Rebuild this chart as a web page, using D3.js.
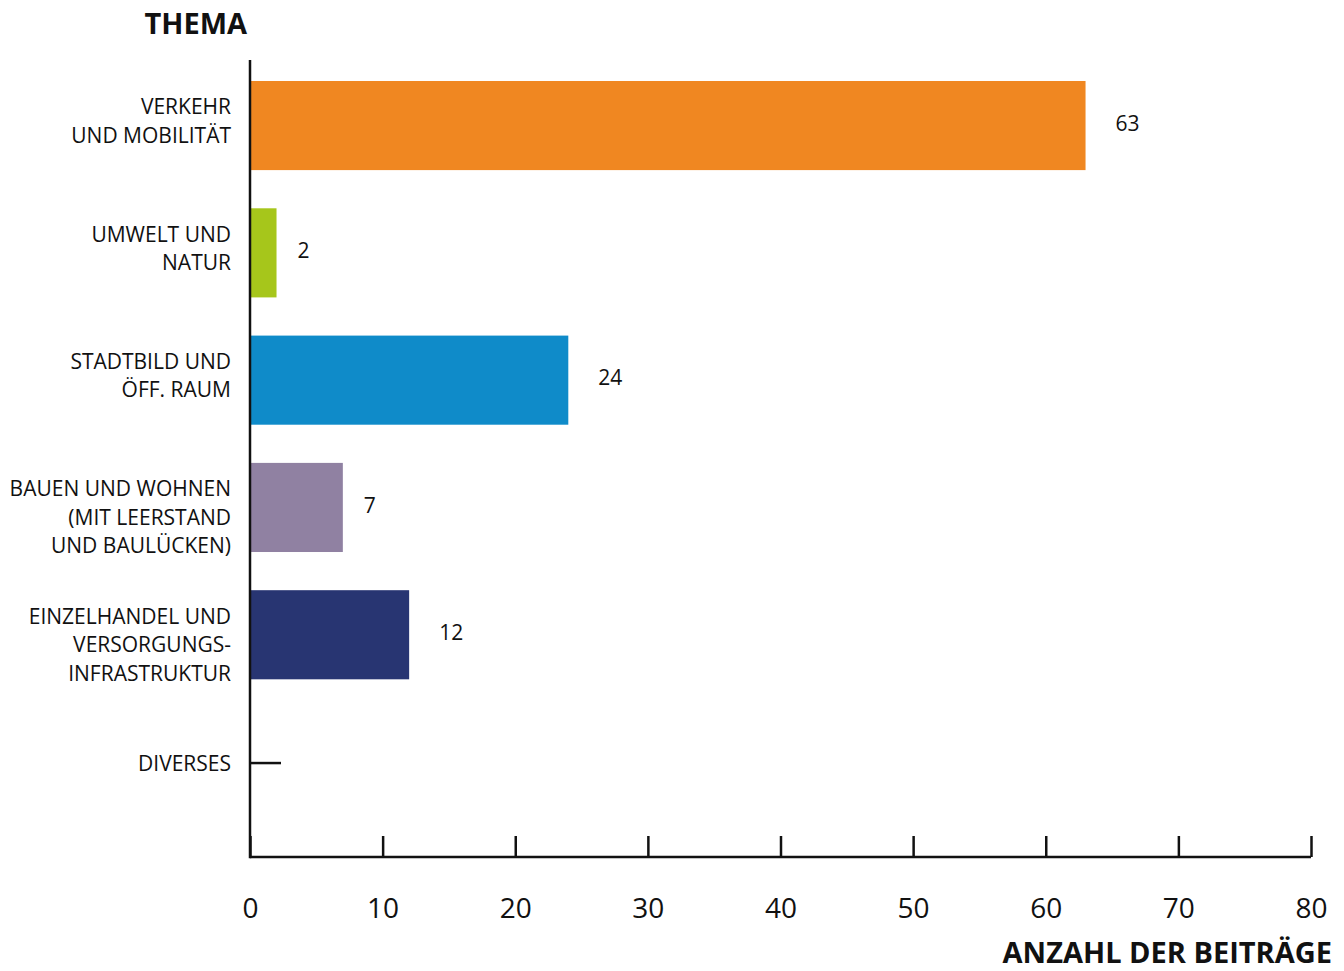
<!DOCTYPE html>
<html>
<head>
<meta charset="utf-8">
<script src="https://cdn.jsdelivr.net/npm/d3@7"></script>
<style>
  html, body { margin: 0; padding: 0; background: #fff; }
  svg { display: block; }
  text { font-family: "Open Sans", "Noto Sans", sans-serif; fill: #111; }
</style>
</head>
<body>
<svg id="chart" width="1344" height="971"></svg>
<script>
// Themes (multi-line labels), counts and bar colours
const categories = [
  ["VERKEHR", "UND MOBILITÄT"],
  ["UMWELT UND", "NATUR"],
  ["STADTBILD UND", "ÖFF. RAUM"],
  ["BAUEN UND WOHNEN", "(MIT LEERSTAND", "UND BAULÜCKEN)"],
  ["EINZELHANDEL UND", "VERSORGUNGS-", "INFRASTRUKTUR"],
  ["DIVERSES"]
];
const values = [63, 2, 24, 7, 12, null];
const colors = ["#F08721", "#A6C61B", "#0F8BC9", "#9081A2", "#283572", "#111"];
const xTicks = [0, 10, 20, 30, 40, 50, 60, 70, 80];
const yTitle = "THEMA";
const xTitle = "ANZAHL DER BEITRÄGE";

const svg = d3.select("#chart");
const left = 250, right = 1311, axisTop = 60, axisBottom = 857;

const x = d3.scaleLinear().domain([0, 80]).range([left, right]);
const keys = categories.map((c, i) => i);
const y = d3.scaleBand().domain(keys).range([42.8, 844.8]).padding(0.3);

// bars
svg.append("g").selectAll("rect")
  .data(values.map((v, i) => ({ v, i })).filter(d => d.v !== null))
  .join("rect")
  .attr("x", x(0))
  .attr("y", d => y(d.i))
  .attr("width", d => x(d.v) - x(0))
  .attr("height", y.bandwidth())
  .attr("fill", d => colors[d.i]);

// dash for the category without a count
values.forEach((v, i) => {
  if (v === null) {
    svg.append("line")
      .attr("x1", x(0)).attr("x2", x(0) + 31)
      .attr("y1", y(i) + y.bandwidth() / 2 + 1).attr("y2", y(i) + y.bandwidth() / 2 + 1)
      .attr("stroke", colors[i]).attr("stroke-width", 2.5);
  }
});

// value labels
svg.append("g").selectAll("text")
  .data(values.map((v, i) => ({ v, i })).filter(d => d.v !== null))
  .join("text")
  .attr("x", d => x(d.v) + (String(d.v).length > 1 ? 30 : 21))
  .attr("y", d => y(d.i) + y.bandwidth() / 2 - 2)
  .attr("dy", "0.35em")
  .attr("font-size", 21)
  .text(d => d.v);

// category labels: multi-line labels start near the top of their bar
const lineH = 28.5;
const lab = svg.append("g");
categories.forEach((lines, i) => {
  const firstY = lines.length > 1
    ? y(i) + 26
    : y(i) + y.bandwidth() / 2 + 2;
  const t = lab.append("text")
    .attr("text-anchor", "end")
    .attr("font-size", 21)
    .attr("transform", `translate(231,${firstY})`);
  lines.forEach((l, k) => {
    t.append("tspan").attr("x", 0).attr("y", k * lineH).attr("dy", "0.35em").text(l);
  });
});

// x axis with ticks pointing up into the plot
const xAxis = d3.axisBottom(x).tickValues(xTicks).tickSize(0).tickPadding(0);
const gx = svg.append("g").attr("transform", `translate(0,${axisBottom})`).call(xAxis);
gx.select(".domain").remove();
gx.selectAll(".tick text").remove();
gx.selectAll(".tick").append("line")
  .attr("y1", 0).attr("y2", -21)
  .attr("stroke", "#111").attr("stroke-width", 2.5);
gx.selectAll(".tick").append("text")
  .attr("y", 61)
  .attr("text-anchor", "middle")
  .attr("font-size", 28)
  .attr("fill", "#111")
  .style("font-family", "'Open Sans', sans-serif")
  .text(d => d);

// axis lines
svg.append("line")
  .attr("x1", left).attr("x2", left)
  .attr("y1", axisTop).attr("y2", axisBottom + 1.25)
  .attr("stroke", "#111").attr("stroke-width", 2.5);
svg.append("line")
  .attr("x1", left).attr("x2", right)
  .attr("y1", axisBottom).attr("y2", axisBottom)
  .attr("stroke", "#111").attr("stroke-width", 2.5);

// axis titles
svg.append("text")
  .attr("x", 247).attr("y", 34)
  .attr("text-anchor", "end")
  .attr("font-size", 29).attr("font-weight", "bold")
  .text(yTitle);
svg.append("text")
  .attr("x", 1332).attr("y", 963)
  .attr("text-anchor", "end")
  .attr("font-size", 29).attr("font-weight", "bold")
  .text(xTitle);
</script>
</body>
</html>
